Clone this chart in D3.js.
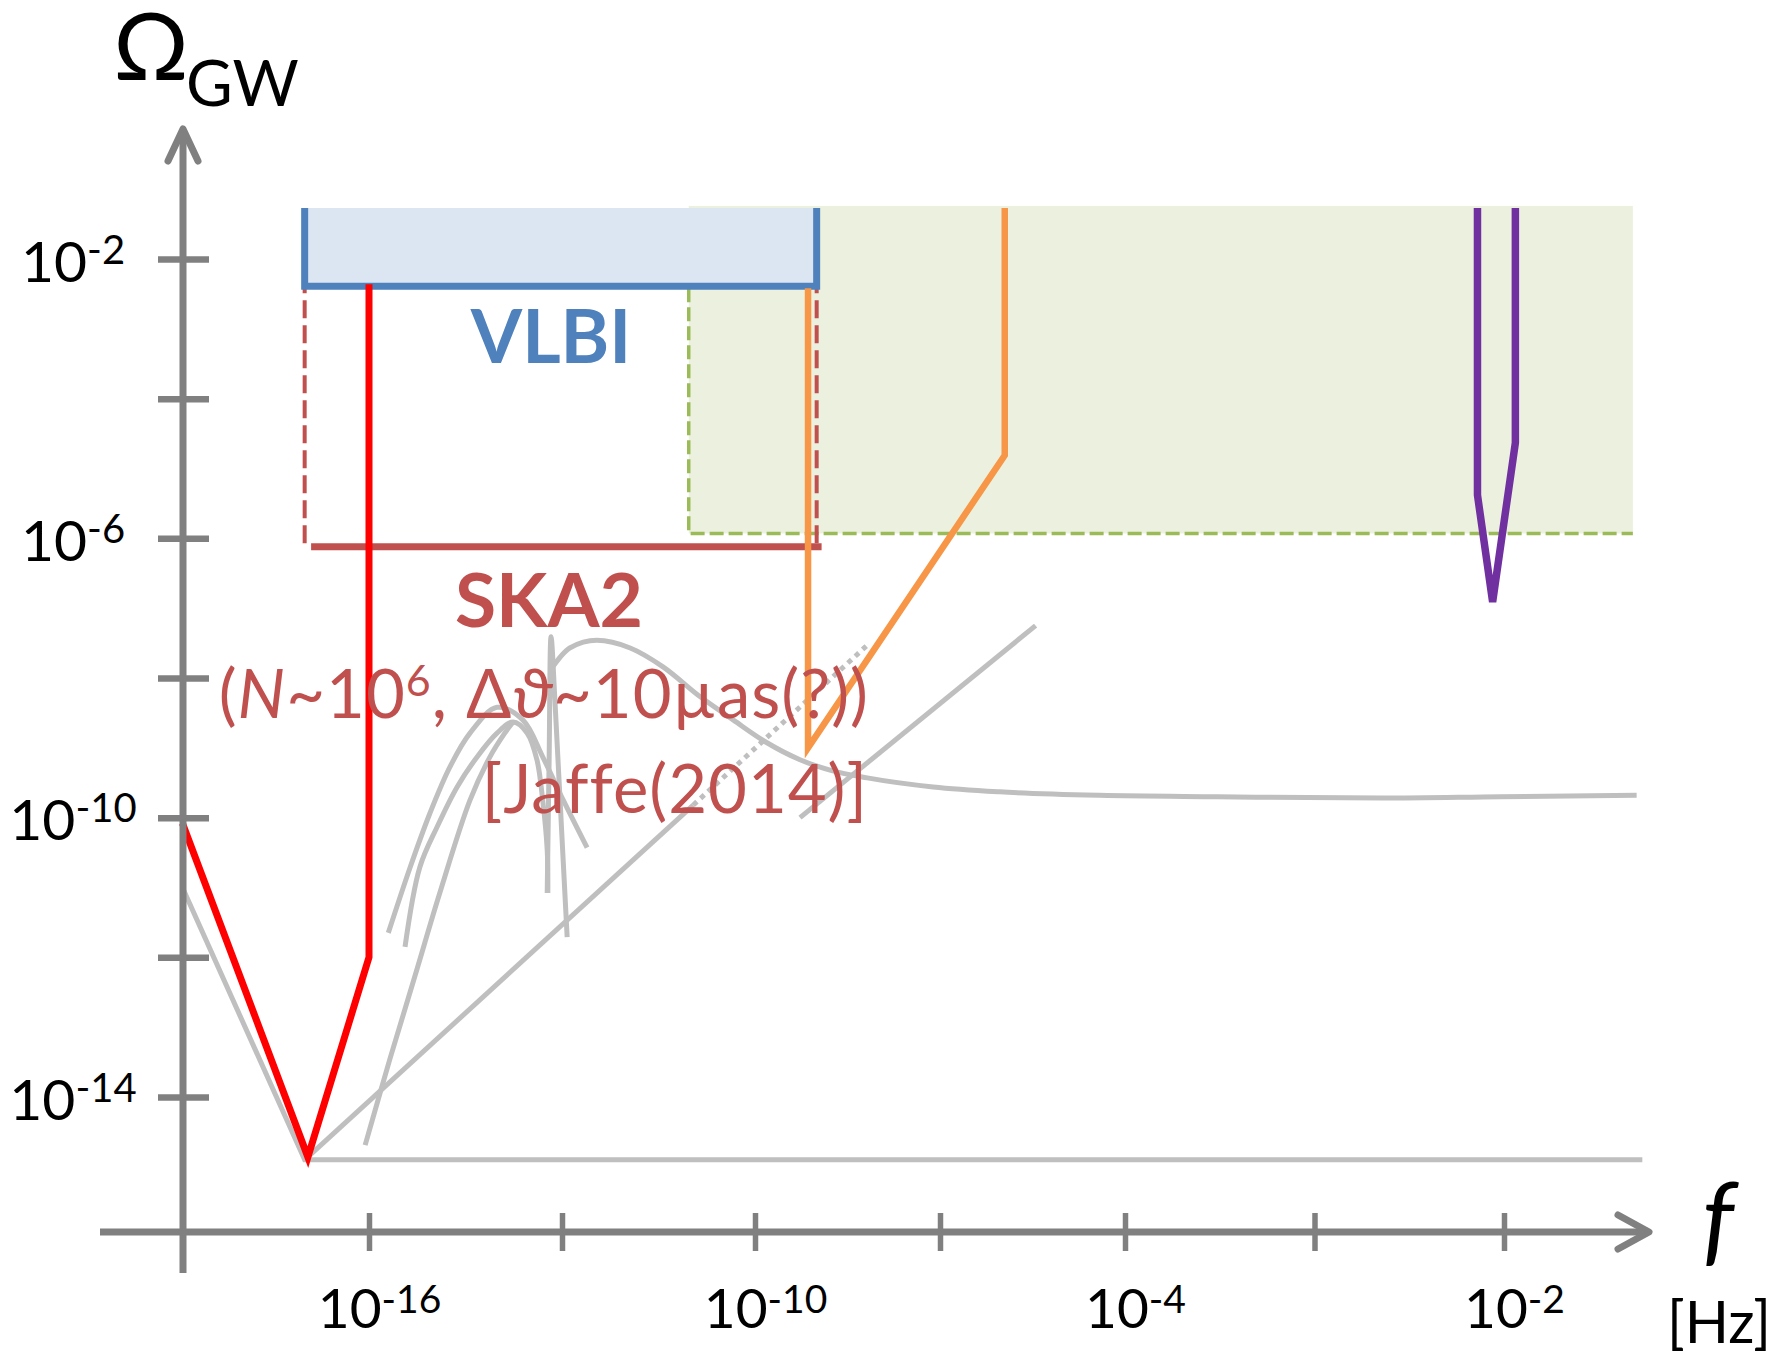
<!DOCTYPE html>
<html>
<head>
<meta charset="utf-8">
<script src="https://cdnjs.cloudflare.com/ajax/libs/d3/7.8.5/d3.min.js"></script>
<style>
  body { margin: 0; background: #fff; }
  svg { display: block; font-family: Lato, "Open Sans", sans-serif; }
</style>
</head>
<body>
<svg id="chart" width="1773" height="1353"></svg>
<script>
// every value is a log10: x = log10(f [Hz]), y = log10(Omega_GW)
const xTicks = [-16, -13, -10, -7, -4, -3, -2]
const xLabelled = [-16, -10, -4, -2]
const yTicks = [-2, -4, -6, -8, -10, -12, -14]
const yLabelled = [-2, -6, -10, -14]

// VLBI box and SKA2 bounds
const vlbiF = [-17, -9]
const vlbiOmega = [-2.39, -1.27]
const skaF = [-16.9, -8.92]
const skaOmega = -6.12
const skaDashOmega = [-6.07, -2.39]
// green shaded region
const greenF = [-11.03, -1.32]
const greenOmega = [-5.93, -1.24]

const redCurve = [[-18.9, -10.08], [-16.95, -14.86], [-16, -12], [-16, -2.36]]
const orangeCurve = [[-9.14, -2.42], [-9.14, -9.0], [-5.95, -4.81], [-5.95, -1.27]]
const purpleCurve = [[-2.14, -1.27], [-2.14, -5.38], [-2.06, -6.91], [-1.94, -4.63], [-1.94, -1.27]]

// grey model curves
const grayFloor = [[-18.9, -11], [-17, -14.9], [-1.27, -14.9]]
const grayDiag = [[-17, -14.9], [-10.96, -9.82]]
const grayDiagDotted = [[-10.96, -9.82], [-8.18, -7.53]]
const grayLineB = [[-9.27, -10.0], [-5.45, -7.25]]
const grayBump = [[-13.16, -7.86], [-12.88, -7.57], [-12.46, -7.46], [-11.94, -7.57], [-11.43, -7.84],
  [-10.85, -8.27], [-10.34, -8.60], [-9.82, -8.92], [-9.27, -9.17], [-8.74, -9.33], [-8.18, -9.43],
  [-7.11, -9.56], [-6.03, -9.63], [-4.41, -9.68], [-3.51, -9.70], [-2.64, -9.72], [-2.02, -9.70], [-1.30, -9.68]]
const grayArcU = [[-15.70, -11.65], [-15.36, -10.71], [-15.05, -9.93], [-14.74, -9.27], [-14.43, -8.79],
  [-14.01, -8.42], [-13.61, -8.60], [-13.30, -9.13], [-12.98, -9.75], [-12.61, -10.43]]
const grayArcN = [[-15.44, -11.85], [-15.21, -10.71], [-14.94, -10.13], [-14.63, -9.56], [-14.32, -9.13],
  [-14.01, -8.79], [-13.76, -8.63], [-13.54, -8.79], [-13.39, -9.17], [-13.30, -9.75], [-13.23, -10.46], [-13.22, -11.08]]
const grayArcL = [[-16.06, -14.69], [-15.67, -13.44], [-15.28, -12.25], [-14.90, -11.08], [-14.43, -9.75],
  [-14.12, -9.13], [-13.89, -8.79], [-13.76, -8.63]]
const graySpike = [[-13.23, -11.08], [-13.20, -9.17], [-13.17, -7.41], [-13.11, -8.32], [-13.03, -9.75], [-12.92, -11.71]]

const svg = d3.select('#chart')

// the frequency axis of the sketch is not evenly spaced in decades
const x = d3.scaleLinear().domain([-16, -10, -4, -2]).range([369, 755, 1125, 1504])
const y = d3.scaleLinear().domain([-2, -14]).range([259, 1097])

const axisX = 183, axisY = 1232
const gray = '#bfbfbf', axisGray = '#808080', skaRed = '#c0504d'

const line = d3.line().x(d => x(d[0])).y(d => y(d[1]))
const smooth = d3.line().x(d => x(d[0])).y(d => y(d[1])).curve(d3.curveCatmullRom.alpha(0.5))

// shaded areas
svg.append('rect')
  .attr('x', x(greenF[0])).attr('y', y(greenOmega[1]))
  .attr('width', x(greenF[1]) - x(greenF[0]))
  .attr('height', y(greenOmega[0]) - y(greenOmega[1]))
  .attr('fill', '#ebf1de')
svg.append('rect')
  .attr('x', x(vlbiF[0])).attr('y', y(vlbiOmega[1]))
  .attr('width', x(vlbiF[1]) - x(vlbiF[0]))
  .attr('height', y(vlbiOmega[0]) - y(vlbiOmega[1]))
  .attr('fill', '#dce6f2')
svg.append('path')
  .attr('d', line([[greenF[0], -2.42], [greenF[0], greenOmega[0]], [greenF[1], greenOmega[0]]]))
  .attr('fill', 'none').attr('stroke', '#9bbb59').attr('stroke-width', 3.5)
  .attr('stroke-dasharray', '14,5')

// grey curves
function grayPath(data, gen, dash){
  svg.append('path').attr('d', gen(data))
    .attr('fill', 'none').attr('stroke', gray).attr('stroke-width', 5)
    .attr('stroke-dasharray', dash || null)
}
grayPath(grayFloor, line)
grayPath(grayDiag, line)
grayPath(grayDiagDotted, line, '5,5')
grayPath(grayLineB, line)
grayPath(grayBump, d3.line().x(d => x(d[0])).y(d => y(d[1])).curve(d3.curveMonotoneX))
grayPath(grayArcU, smooth)
grayPath(grayArcN, smooth)
grayPath(grayArcL, smooth)
grayPath(graySpike, smooth)

// SKA2 lines
vlbiF.forEach(function(f){
  svg.append('path').attr('d', line([[f, skaDashOmega[0]], [f, skaDashOmega[1]]]))
    .attr('stroke', skaRed).attr('stroke-width', 4).attr('stroke-dasharray', '18,7')
})
svg.append('path').attr('d', line([[skaF[0], skaOmega], [skaF[1], skaOmega]]))
  .attr('stroke', skaRed).attr('stroke-width', 7)

// VLBI outline (no top edge)
svg.append('path')
  .attr('d', line([[vlbiF[0], vlbiOmega[1]], [vlbiF[0], vlbiOmega[0]], [vlbiF[1], vlbiOmega[0]], [vlbiF[1], vlbiOmega[1]]]))
  .attr('fill', 'none').attr('stroke', '#4f81bd').attr('stroke-width', 7)

svg.append('path').attr('d', line(redCurve))
  .attr('fill', 'none').attr('stroke', '#ff0000').attr('stroke-width', 7)
svg.append('path').attr('d', line(orangeCurve))
  .attr('fill', 'none').attr('stroke', '#f79646').attr('stroke-width', 6.5)
svg.append('path').attr('d', line(purpleCurve))
  .attr('fill', 'none').attr('stroke', '#7030a0').attr('stroke-width', 7.5)

// axes
const gx = svg.append('g').attr('transform', 'translate(0,' + axisY + ')')
  .call(d3.axisBottom(x).tickValues(xTicks).tickSize(19).tickFormat(''))
const gy = svg.append('g').attr('transform', 'translate(' + axisX + ',0)')
  .call(d3.axisLeft(y).tickValues(yTicks).tickSize(25).tickFormat(''))
gx.select('.domain').remove()
gy.select('.domain').remove()
gx.selectAll('.tick line').attr('y1', -19).attr('stroke', axisGray).attr('stroke-width', 5.5)
gy.selectAll('.tick line').attr('x1', 26).attr('stroke', axisGray).attr('stroke-width', 6.5)

gx.selectAll('.tick text').each(function(d){
  const t = d3.select(this).attr('y', 96).attr('dy', null).attr('dx', 10)
    .attr('fill', '#000').attr('font-size', 55).attr('font-family', null)
  if (!xLabelled.includes(d)) return
  t.append('tspan').text('10')
  t.append('tspan').attr('dy', -15).attr('font-size', 39).text(d)
})
gy.selectAll('.tick text').each(function(d){
  const t = d3.select(this).attr('x', -110).attr('dy', 22)
    .attr('text-anchor', 'middle').attr('fill', '#000').attr('font-size', 57).attr('font-family', null)
  if (!yLabelled.includes(d)) return
  t.append('tspan').text('10')
  t.append('tspan').attr('dy', -18).attr('font-size', 40).text(d)
})
gx.attr('font-family', null).attr('font-size', null)
gy.attr('font-family', null).attr('font-size', null)

svg.append('path').attr('d', 'M100,' + axisY + 'H1645')
  .attr('stroke', axisGray).attr('stroke-width', 7)
svg.append('path').attr('d', 'M1618,' + (axisY - 17) + 'L1649,' + axisY + 'L1618,' + (axisY + 17))
  .attr('fill', 'none').attr('stroke', axisGray).attr('stroke-width', 7)
  .attr('stroke-linecap', 'round').attr('stroke-linejoin', 'round')
svg.append('path').attr('d', 'M' + axisX + ',1273V132')
  .attr('stroke', axisGray).attr('stroke-width', 7)
svg.append('path').attr('d', 'M' + (axisX - 15) + ',161L' + axisX + ',129L' + (axisX + 15) + ',161')
  .attr('fill', 'none').attr('stroke', axisGray).attr('stroke-width', 7)
  .attr('stroke-linecap', 'round').attr('stroke-linejoin', 'round')

// axis titles
const om = svg.append('text').attr('x', 113).attr('y', 80).attr('font-size', 94).attr('fill', '#000')
om.append('tspan').text('Ω')
om.append('tspan').attr('x', 186).attr('y', 106).attr('font-size', 64).text('GW')
svg.append('text').attr('x', 1718).attr('y', 1254).attr('text-anchor', 'middle')
  .attr('font-size', 100).attr('font-style', 'italic').attr('fill', '#000').text('f')
svg.append('text').attr('x', 1719).attr('y', 1343).attr('text-anchor', 'middle')
  .attr('font-size', 58).attr('fill', '#000').text('[Hz]')

// annotations
svg.append('text').attr('x', 551).attr('y', 363).attr('text-anchor', 'middle')
  .attr('font-size', 74).attr('font-weight', 'bold').attr('fill', '#4f81bd').text('VLBI')
svg.append('text').attr('x', 549).attr('y', 627).attr('text-anchor', 'middle')
  .attr('font-size', 75).attr('font-weight', 'bold').attr('fill', skaRed).text('SKA2')

const l1 = svg.append('text').attr('x', 869).attr('y', 718).attr('text-anchor', 'end')
  .attr('font-size', 67).attr('letter-spacing', 1).attr('fill', skaRed)
l1.append('tspan').text('(')
l1.append('tspan').attr('font-style', 'italic').text('N')
l1.append('tspan').text('~10')
l1.append('tspan').attr('dy', -22).attr('font-size', 43).text('6')
l1.append('tspan').attr('dy', 22).text(', Δ')
l1.append('tspan').attr('font-style', 'italic').text('ϑ')
l1.append('tspan').text('~10µas(?))')

svg.append('text').attr('x', 868).attr('y', 813).attr('text-anchor', 'end')
  .attr('font-size', 67).attr('letter-spacing', 1).attr('fill', skaRed).text('[Jaffe(2014)]')
</script>
</body>
</html>
